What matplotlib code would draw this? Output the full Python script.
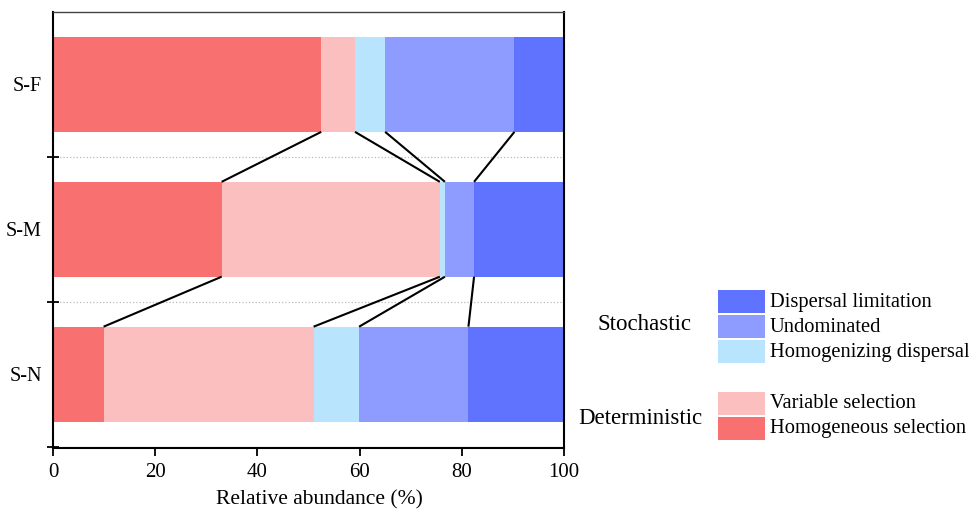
import numpy as np
import matplotlib
matplotlib.use("Agg")
import matplotlib.pyplot as plt
import matplotlib.patches as patches

plt.rcParams['font.family'] = ['Liberation Serif', 'DejaVu Serif']

sites = ['S-N', 'S-M', 'S-F']
processes = ['Homogeneous selection', 'Variable selection', 'Homogenizing dispersal',
             'Undominated', 'Dispersal limitation']
homogeneous_selection = [9.9, 33.0, 52.5]
variable_selection = [41.1, 42.7, 6.6]
homogenizing_dispersal = [8.9, 1.0, 5.9]
undominated = [21.4, 5.7, 25.3]
dispersal_limitation = [18.7, 17.6, 9.7]
colors = ['#F87070', '#FCBFC0', '#B8E4FE', '#8E9CFF', '#6073FF']

series = [homogeneous_selection, variable_selection, homogenizing_dispersal,
          undominated, dispersal_limitation]

fig = plt.figure(figsize=(9.7, 5.09), dpi=100)
ax = fig.add_axes([53 / 970, 61 / 509, 511 / 970, 436 / 509])

bar_h = 0.655
ypos = np.arange(len(sites))
left = np.zeros(len(sites))
bounds = []
for vals, col in zip(series, colors):
    ax.barh(ypos, vals, left=left, height=bar_h, color=col, edgecolor='none', zorder=2)
    left = left + np.array(vals)
    bounds.append(left.copy())

# connecting lines between bars at internal boundaries
for b in bounds[:-1]:
    for i in range(len(sites) - 1, 0, -1):
        ax.plot([b[i], b[i - 1]], [i - bar_h / 2, i - 1 + bar_h / 2],
                color='black', lw=1.5, zorder=3, solid_capstyle='butt')

ax.set_xlim(0, 100)
ax.set_ylim(-0.51, 2.5)
ax.set_xticks([0, 20, 40, 60, 80, 100])
ax.set_yticks(ypos)
ax.set_yticklabels(sites)
ax.set_yticks([-0.5, 0.5, 1.5], minor=True)
ax.tick_params(axis='y', which='major', length=0, pad=8, labelsize=14.5)
ax.tick_params(axis='y', which='minor', direction='inout', length=8, width=1.3)
ax.tick_params(axis='x', direction='out', length=6, width=1.3, labelsize=15, pad=5)
ax.grid(axis='y', which='minor', color='#BBBBBB', linestyle=':', linewidth=0.9, zorder=0)
ax.set_xlabel('Relative abundance (%)', fontsize=15.5)
ax.xaxis.set_label_coords(0.522, -0.097)

for s in ['left', 'bottom']:
    ax.spines[s].set_linewidth(1.5)
ax.spines['right'].set_linewidth(1.5)
ax.spines['top'].set_linewidth(1.0)
ax.spines['top'].set_color('#444444')

# legend drawn in a pixel-coordinate axes
lax = fig.add_axes([0, 0, 1, 1], facecolor='none')
lax.set_xlim(0, 970)
lax.set_ylim(509, 0)
lax.axis('off')

stoch = [('Dispersal limitation', colors[4], 290),
         ('Undominated', colors[3], 315),
         ('Homogenizing dispersal', colors[2], 340)]
determ = [('Variable selection', colors[1], 392),
          ('Homogeneous selection', colors[0], 417)]
for label, col, y in stoch + determ:
    lax.add_patch(patches.Rectangle((718, y), 47, 23, facecolor=col, edgecolor='none'))
    lax.text(770, y + 12, label, fontsize=14.8, va='center', ha='left')

lax.text(645, 324, 'Stochastic', fontsize=16.5, va='center', ha='center')
lax.text(640, 418, 'Deterministic', fontsize=16.5, va='center', ha='center')

fig.savefig('out.png', dpi=100)
